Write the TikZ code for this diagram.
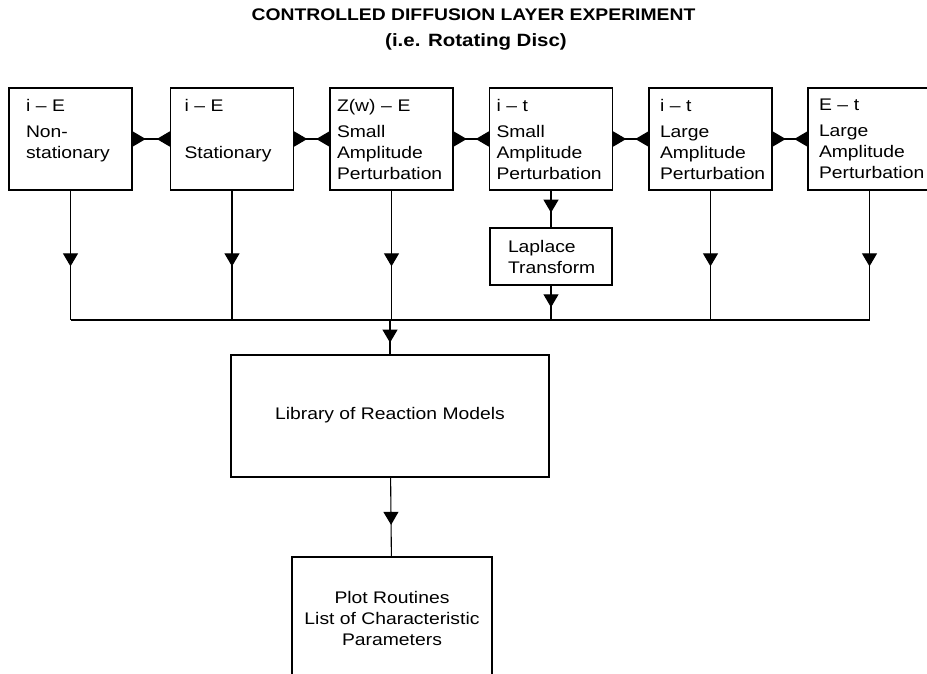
\documentclass[tikz,border=0pt]{standalone}
\usepackage{fontspec}
\setmainfont{Liberation Sans}[FakeStretch=1.15]
\usetikzlibrary{arrows.meta,decorations.markings}
\def\diafont{\fontsize{16.8}{21}\selectfont}
\def\tip{Triangle[length=13pt,width=15pt]}

\begin{document}
\begin{tikzpicture}[x=1pt,y=-1pt,line width=1.1pt,
		every node/.style={font=\diafont},
		topbox/.style={draw,line width=1.4pt,rectangle,minimum width=123pt,minimum height=102pt,inner sep=0pt,align=left,text width=#1},
		midarrow/.style={postaction={decorate},decoration={markings,mark=at position #1 with {\arrow{\tip}}}},
		link/.style={{Triangle[reversed,length=13pt,width=15pt]}-{Triangle[reversed,length=13pt,width=15pt]}}]
	\useasboundingbox (0,0) rectangle (927,673);
	\clip (0,0) rectangle (927,673);
	% heading
	\node[font=\diafont\bfseries] (title) at (473.5,15) {CONTROLLED DIFFUSION LAYER EXPERIMENT};
	\node[font=\fontsize{17.8}{21}\selectfont\bfseries] (subtitle) at (476,42) {(i.e. Rotating Disc)};
	% the six experiments
	\node[topbox=89pt] (nonstat) at (70.5,139) {i -- E\\[5pt]Non-\\stationary\\\mbox{}};
	\node[topbox=95pt] (stat) at (232,139) {i -- E\\[5pt]\mbox{}\\Stationary\\\mbox{}};
	\node[topbox=109pt] (zwsmall) at (391.5,139) {Z(w) -- E\\[5pt]Small\\Amplitude\\Perturbation};
	\node[topbox=109pt] (itsmall) at (551,139) {i -- t\\[5pt]Small\\Amplitude\\Perturbation};
	\node[topbox=101pt] (itlarge) at (710.5,139) {i -- t\\[5pt]Large\\Amplitude\\Perturbation};
	\node[topbox=101pt] (etlarge) at (869.5,139) {E -- t\\[5pt]Large\\Amplitude\\Perturbation};
	\node[draw,line width=1.4pt,minimum width=122pt,minimum height=57pt,inner sep=0pt,text width=86pt,align=left] (laplace) at (551,256.5) {Laplace\\Transform};
	\node[draw,line width=1.4pt,minimum width=318pt,minimum height=122pt] (library) at (390,416) {\raisebox{6pt}{Library of Reaction Models}};
	\node[draw,line width=1.4pt,minimum width=200pt,minimum height=122pt,align=center] (plot) at (392,618) {Plot Routines\\List of Characteristic\\Parameters};
	\coordinate (bus) at (0,320);
	% connectors
	\foreach \a/\b in {nonstat/stat,stat/zwsmall,zwsmall/itsmall,itsmall/itlarge,itlarge/etlarge}
		\draw[link] (\a.east) -- (\b.west);
	\foreach \b in {nonstat,stat,zwsmall,itlarge,etlarge}
		\draw[midarrow=0.585] (\b.south) -- (\b.south |- bus);
	\draw[midarrow=0.6] (itsmall) -- (laplace);
	\draw[midarrow=0.63] (laplace) -- (laplace.south |- bus);
	\draw (nonstat.south |- bus) -- (etlarge.south |- bus);
	\draw[midarrow=0.66] (library.north |- bus) -- (library);
	\draw[midarrow=0.6] (library) -- (plot);
\end{tikzpicture}
\end{document}
